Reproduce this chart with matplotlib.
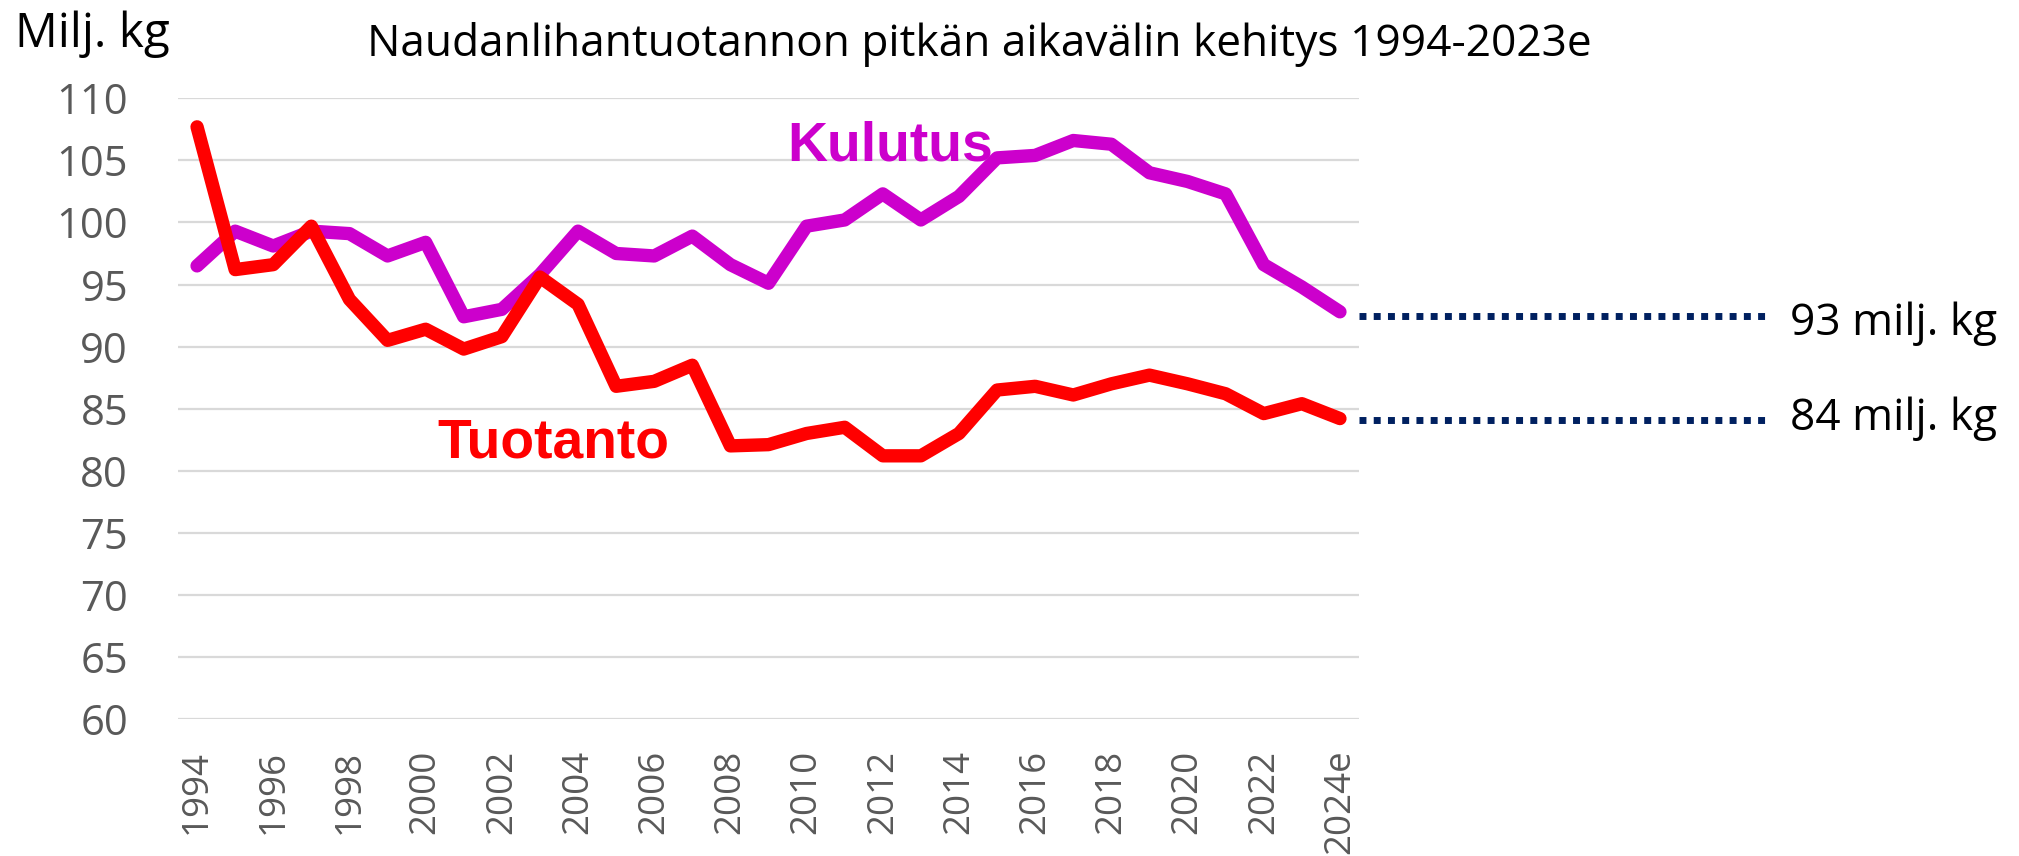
import matplotlib
matplotlib.use("Agg")
import matplotlib.pyplot as plt

# ---------------- data ----------------
years = [str(y) for y in range(1994, 2024)] + ["2024e"]
tuotanto = [107.7, 96.2, 96.6, 99.7, 93.8, 90.5, 91.4, 89.8, 90.8, 95.6,
            93.4, 86.8, 87.2, 88.5, 82.0, 82.1, 83.0, 83.5, 81.2, 81.2,
            83.0, 86.5, 86.8, 86.1, 87.0, 87.7, 87.0, 86.2, 84.6, 85.4, 84.2]
kulutus = [96.5, 99.3, 98.1, 99.3, 99.1, 97.3, 98.4, 92.4, 93.0, 95.8,
           99.3, 97.5, 97.3, 98.9, 96.6, 95.1, 99.7, 100.2, 102.3, 100.2,
           102.1, 105.2, 105.4, 106.6, 106.3, 104.0, 103.3, 102.3, 96.6, 94.8, 92.8]
y_ticks = [60, 65, 70, 75, 80, 85, 90, 95, 100, 105, 110]
title = "Naudanlihantuotannon pitkän aikavälin kehitys 1994-2023e"
unit_label = "Milj. kg"
end_labels = ["93 milj. kg", "84 milj. kg"]

# ---------------- layout ----------------
W, H, DPI = 2019, 856, 100
fig = plt.figure(figsize=(W / DPI, H / DPI), dpi=DPI)
plt.rcParams['font.family'] = ['Open Sans', 'DejaVu Sans']

def fx(px):
    return px / W

def fy(py):
    return 1 - py / H

ax = fig.add_axes([fx(178), fy(719), fx(1359) - fx(178), fy(98.3) - fy(719)])

PURPLE = "#CC00CC"
RED = "#FF0000"
NAVY = "#002060"
GRAY = "#595959"

x = list(range(len(years)))
ax.plot(x, kulutus, color=PURPLE, lw=9.6, solid_capstyle="round",
        solid_joinstyle="round", zorder=3)
ax.plot(x, tuotanto, color=RED, lw=9.6, solid_capstyle="round",
        solid_joinstyle="round", zorder=4)

ax.set_xlim(-0.5, len(years) - 0.5)
ax.set_ylim(60, 110)
ax.set_yticks(y_ticks)
ax.set_yticklabels([str(v) for v in y_ticks])
ax.set_xticks(x[::2])
ax.set_xticklabels(years[::2], rotation=90)
ax.grid(axis="y", color="#D9D9D9", lw=1.6)
ax.set_axisbelow(True)
for s in ax.spines.values():
    s.set_visible(False)
ax.tick_params(axis="both", length=0, colors=GRAY)
ax.tick_params(axis="y", labelsize=30, pad=36)
ax.tick_params(axis="x", labelsize=26.5, pad=22)

# dotted leader lines to end labels (outside axes)
x_end_px = 1767
x_end_data = (x_end_px - 178) / ((1359 - 178) / len(years)) - 0.5
for val in (kulutus[-1] - 0.3, tuotanto[-1] - 0.1):
    ax.plot([len(years) - 0.5, x_end_data], [val, val], color=NAVY, lw=5.0,
            linestyle=(0, (1, 1.05)), dash_capstyle="butt", clip_on=False,
            zorder=2)

renderer = fig.canvas.get_renderer()

def fit_text(px_x, px_y, s, target_w, size, **kw):
    t = fig.text(fx(px_x), fy(px_y), s, fontsize=size, **kw)
    w = t.get_window_extent(renderer).width
    t.set_fontsize(size * target_w / w)
    return t

fit_text(367, 56, title, 1223, 30, ha="left", va="baseline", color="black")
fit_text(15, 47, unit_label, 155, 34, ha="left", va="baseline", color="black")
fit_text(1790, 335, end_labels[0], 207, 32, ha="left", va="baseline", color="black")
fit_text(1790, 430, end_labels[1], 207, 32, ha="left", va="baseline", color="black")
fit_text(787, 160.5, "Kulutus", 206, 40, ha="left", va="baseline",
         color=PURPLE, fontweight="bold", family=["Liberation Sans", "DejaVu Sans"])
fit_text(437, 458, "Tuotanto", 232, 40, ha="left", va="baseline",
         color=RED, fontweight="bold", family=["Liberation Sans", "DejaVu Sans"])

fig.savefig("out.png", dpi=DPI)
